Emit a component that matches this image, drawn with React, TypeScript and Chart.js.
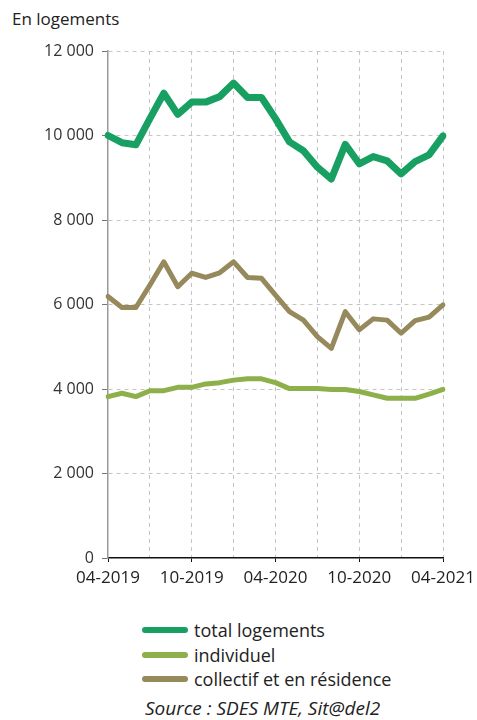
import React, { useEffect, useRef } from "react";
import { Chart, registerables } from "chart.js";

Chart.register(...registerables);

const months: string[] = [
  "04-2019", "05-2019", "06-2019", "07-2019", "08-2019", "09-2019", "10-2019",
  "11-2019", "12-2019", "01-2020", "02-2020", "03-2020", "04-2020", "05-2020",
  "06-2020", "07-2020", "08-2020", "09-2020", "10-2020", "11-2020", "12-2020",
  "01-2021", "02-2021", "03-2021", "04-2021",
];

const totalLogements: number[] = [
  10000, 9830, 9780, 10400, 11000, 10500, 10790, 10790, 10920, 11240, 10900,
  10900, 10400, 9850, 9640, 9250, 8970, 9790, 9330, 9500, 9400, 9090, 9380,
  9540, 9990,
];

const individuel: number[] = [
  3820, 3900, 3820, 3960, 3960, 4040, 4040, 4120, 4150, 4210, 4240, 4240, 4150,
  4010, 4010, 4010, 3990, 3990, 3940, 3860, 3780, 3780, 3780, 3880, 3990,
];

const collectif: number[] = [
  6190, 5930, 5930, 6460, 7010, 6420, 6740, 6640, 6750, 7010, 6640, 6620, 6220,
  5830, 5630, 5240, 4960, 5830, 5400, 5660, 5630, 5320, 5620, 5700, 5990,
];

const yTicks: number[] = [0, 2000, 4000, 6000, 8000, 10000, 12000];

const seriesNames: string[] = ["total logements", "individuel", "collectif et en résidence"];
const seriesColors: string[] = ["#17a062", "#8db04a", "#968a5d"];

const FONT = "'Open Sans', sans-serif";

function fmt(v: number): string {
  const s = String(Math.round(v));
  return s.replace(/\B(?=(\d{3})+(?!\d))/g, " ");
}

export default function App() {
  const ref = useRef<HTMLCanvasElement | null>(null);

  useEffect(() => {
    if (!ref.current) return;
    const mk = (i: number, data: number[], w: number) => ({
      label: seriesNames[i],
      data,
      borderColor: seriesColors[i],
      borderWidth: w,
      pointRadius: 0,
      tension: 0,
      borderJoinStyle: "round" as const,
      borderCapStyle: "round" as const,
    });
    const chart = new Chart(ref.current, {
      type: "line",
      data: {
        labels: months,
        datasets: [mk(0, totalLogements, 7), mk(1, individuel, 5), mk(2, collectif, 5)],
      },
      options: {
        animation: false,
        responsive: false,
        maintainAspectRatio: false,
        layout: { padding: { left: 0, right: 34, top: 51, bottom: 0 } },
        plugins: {
          legend: { display: false },
          tooltip: { enabled: false },
        },
        scales: {
          x: {
            type: "category",
            offset: false,
            afterFit: (axis: any) => {
              axis.height = 42;
              axis.paddingLeft = 0;
              axis.paddingRight = 0;
            },
            border: { display: true, color: "#111", width: 1.5, dash: [4, 4] },
            grid: {
              drawOnChartArea: true,
              color: (ctx: any) =>
                ctx.index % 3 === 0 && ctx.index !== 0 ? "#c4c4c4" : "rgba(0,0,0,0)",
              tickColor: (ctx: any) => (ctx.index % 6 === 0 ? "#111" : "rgba(0,0,0,0)"),
              tickLength: 4,
              lineWidth: 1,
            },
            ticks: {
              autoSkip: false,
              maxRotation: 0,
              minRotation: 0,
              padding: 6,
              color: "#222",
              font: { family: FONT, size: 17 },
              callback: (_v: any, i: number) => (i % 6 === 0 ? months[i] : ""),
            },
          },
          y: {
            min: 0,
            max: 12000,
            afterFit: (axis: any) => {
              axis.width = 108;
              axis.paddingTop = 0;
              axis.paddingBottom = 0;
            },
            afterBuildTicks: (axis: any) => {
              axis.ticks = yTicks.map((v) => ({ value: v }));
            },
            border: { display: true, color: "#9a9a9a", width: 1.5, dash: [4, 4] },
            grid: {
              color: (ctx: any) => (ctx.tick && ctx.tick.value === 0 ? "rgba(0,0,0,0)" : "#c4c4c4"),
              tickColor: "#777",
              tickLength: 6,
              lineWidth: 1,
            },
            ticks: {
              padding: 8,
              color: "#333",
              font: { family: FONT, size: 16 },
              callback: (v: any) => fmt(Number(v)),
            },
          },
        },
      },
    });
    return () => chart.destroy();
  }, []);

  return (
    <div style={{ position: "absolute", left: 0, top: 0, width: 477, height: 720, background: "#fff" }}>
      <div
        style={{
          position: "absolute",
          left: 12,
          top: 7,
          fontFamily: FONT,
          fontSize: 17,
          color: "#222",
        }}
      >
        En logements
      </div>
      <canvas ref={ref} width={477} height={600} style={{ position: "absolute", left: 0, top: 0 }} />
      <div style={{ position: "absolute", left: 142, top: 618, fontFamily: FONT, fontSize: 18, color: "#222" }}>
        {seriesNames.map((n, i) => (
          <div key={n} style={{ display: "flex", alignItems: "center", height: 24.5 }}>
            <span
              style={{
                display: "inline-block",
                width: 46,
                height: 6,
                borderRadius: 3,
                background: seriesColors[i],
                marginRight: 6,
              }}
            />
            <span>{n}</span>
          </div>
        ))}
      </div>
      <div
        style={{
          position: "absolute",
          left: 145,
          top: 695,
          fontFamily: FONT,
          fontSize: 19,
          fontStyle: "italic",
          color: "#222",
        }}
      >
        Source : SDES MTE, Sit@del2
      </div>
    </div>
  );
}
